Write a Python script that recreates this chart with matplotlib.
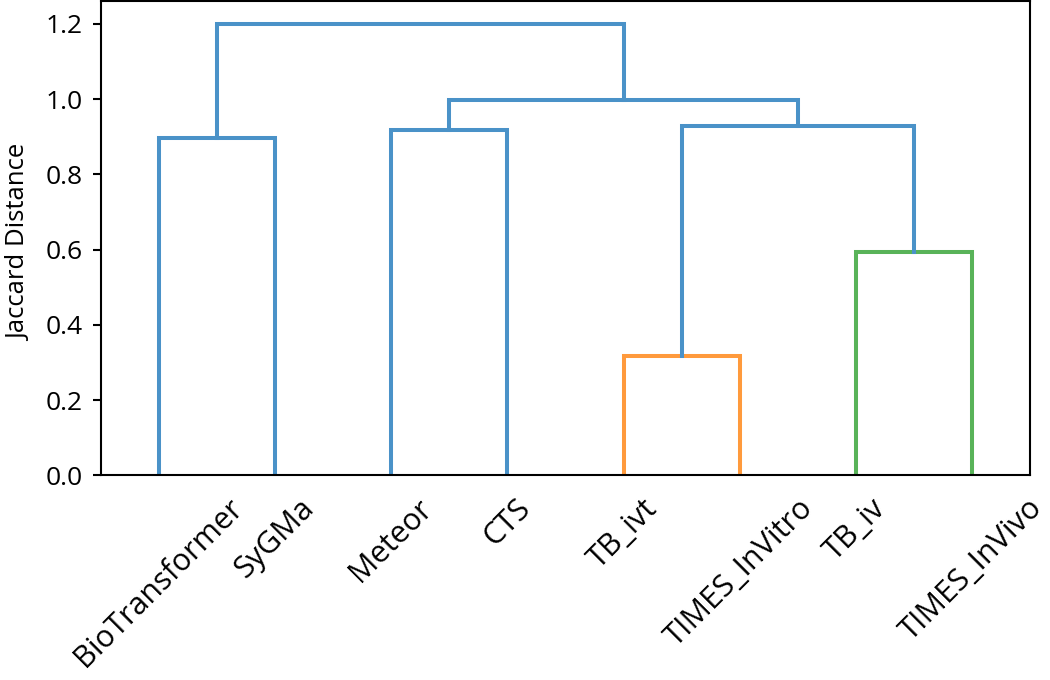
import matplotlib
matplotlib.use("Agg")
import matplotlib.pyplot as plt

plt.rcParams['font.family'] = ['Open Sans', 'DejaVu Sans']

# leaves in dendrogram order
labels = ['BioTransformer', 'SyGMa', 'Meteor', 'CTS',
          'TB_ivt', 'TIMES_InVitro', 'TB_iv', 'TIMES_InVivo']

# merges like a scipy linkage: (left id, right id, height); new ids start at 8
merge_left = [4, 6, 8, 0, 2, 12, 11]
merge_right = [5, 7, 9, 1, 3, 10, 13]
merge_height = [0.316, 0.593, 0.928, 0.896, 0.918, 0.997, 1.2]
merge_color = ['#ff9a3c', '#59b359', '#4a92c8', '#4a92c8', '#4a92c8', '#4a92c8', '#4a92c8']

fig = plt.figure(figsize=(10.5, 6.8), dpi=100)
ax = fig.add_axes([0.096, 0.301, 0.885, 0.697])

n = len(labels)
xpos = {i: 5 + 10 * i for i in range(n)}
ypos = {i: 0.0 for i in range(n)}

for k, (a, b, h, c) in enumerate(zip(merge_left, merge_right, merge_height, merge_color)):
    node = n + k
    xa, xb = xpos[a], xpos[b]
    ax.plot([xa, xa, xb, xb], [ypos[a], h, h, ypos[b]], color=c, lw=2.9,
            solid_joinstyle='miter')
    xpos[node] = (xa + xb) / 2
    ypos[node] = h

ax.set_xlim(0, n * 10)
ax.set_ylim(0, max(merge_height) * 1.05)
ax.set_xticks([5 + 10 * i for i in range(n)])
ax.set_xticklabels(labels, rotation=45, fontsize=22)
ax.tick_params(axis='x', length=0, pad=13)
ax.set_yticks([0.0, 0.2, 0.4, 0.6, 0.8, 1.0, 1.2])
ax.set_yticklabels(['0.0', '0.2', '0.4', '0.6', '0.8', '1.0', '1.2'])
ax.tick_params(axis='y', labelsize=19, length=6, width=1.5, pad=7)
ax.set_ylabel('Jaccard Distance', fontsize=18.5)
ax.yaxis.set_label_coords(-0.074, 0.49)
for s in ax.spines.values():
    s.set_linewidth(1.5)

fig.savefig('out.png', dpi=100)
